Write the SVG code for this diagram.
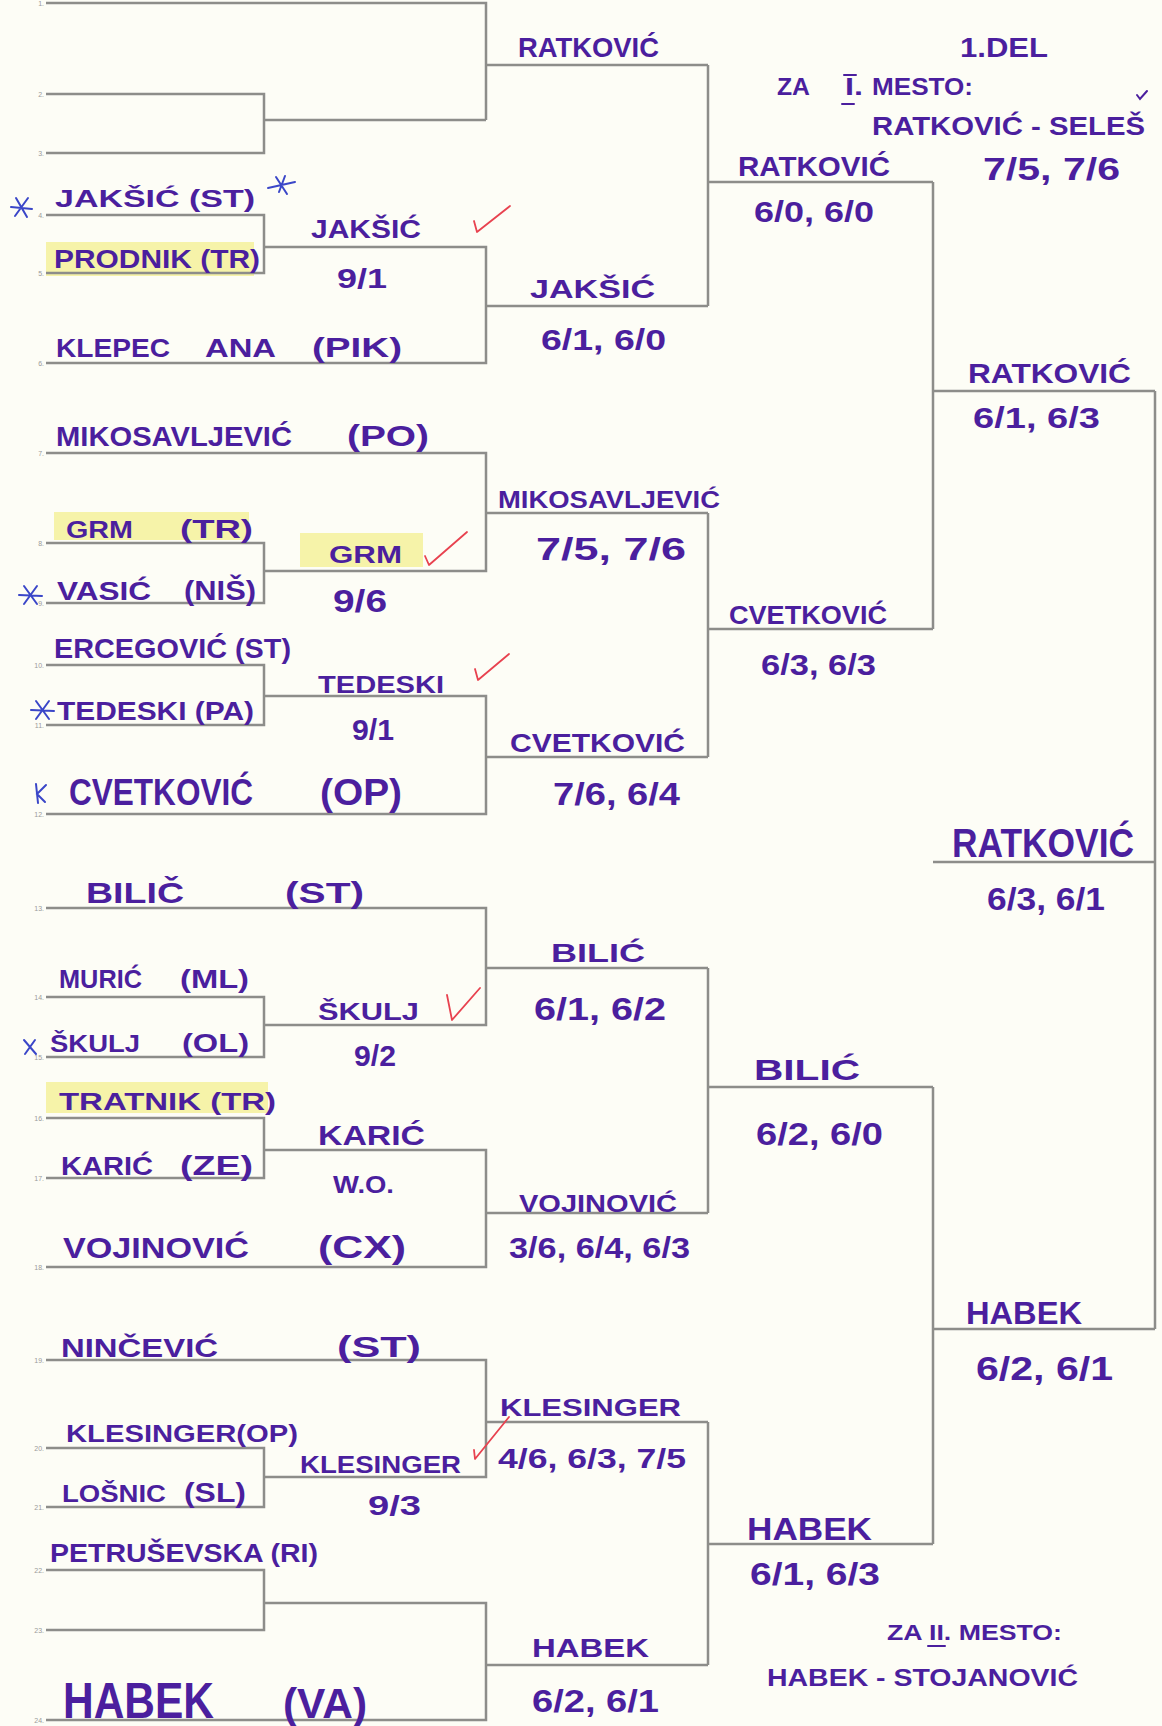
<svg xmlns="http://www.w3.org/2000/svg" width="1162" height="1726" viewBox="0 0 1162 1726">
<style>
.h{font-family:"Liberation Sans","DejaVu Sans",sans-serif;font-weight:bold;fill:#4b1f9e;}
.ln{fill:none;stroke:#8d8d8a;stroke-width:2.5;}
.num{font-family:"Liberation Sans",sans-serif;font-size:7px;fill:#9a9a9a;text-anchor:end;}
.hl{fill:#f3ef8f;opacity:0.75;}
.chk{fill:none;stroke:#e8424f;stroke-width:1.8;stroke-linecap:round;stroke-linejoin:round;}
.ast{fill:none;stroke:#3a46c8;stroke-width:2;stroke-linecap:round;}
.pm{fill:none;stroke:#4b1f9e;stroke-width:2;stroke-linecap:round;}
</style>
<rect width="1162" height="1726" fill="#fdfdf6"/>

<g id="highlights">
<rect class="hl" x="46" y="242" width="208" height="34"/>
<rect class="hl" x="54" y="512" width="195" height="28"/>
<rect class="hl" x="300" y="533" width="123" height="34"/>
<rect class="hl" x="46" y="1082" width="222" height="31"/>
</g>

<g id="connectors">
<path class="ln" d="M46 3H486V120M46 94H264V153H46M264 120H486M486 65H708"/>
<path class="ln" d="M46 215H264V273H46M264 247H486V363H46M486 306H708M708 65V306M708 182H933"/>
<path class="ln" d="M46 453H486V571H264M46 543H264V603H46M486 513H708"/>
<path class="ln" d="M46 665H264V725H46M264 696H486V814H46M486 757H708M708 513V757M708 629H933"/>
<path class="ln" d="M933 182V629M933 391H1155"/>
<path class="ln" d="M46 908H486V1025H264M46 997H264V1057H46M486 968H708"/>
<path class="ln" d="M46 1118H264V1178H46M264 1150H486V1267H46M486 1213H708M708 968V1213M708 1087H933"/>
<path class="ln" d="M46 1360H486V1477H264M46 1448H264V1507H46M486 1422H708"/>
<path class="ln" d="M46 1570H264V1630H46M264 1603H486V1720H46M486 1665H708M708 1422V1665M708 1544H933"/>
<path class="ln" d="M933 1087V1544M933 1329H1155M1155 391V1329M933 862H1155"/>
</g>

<g id="draw-numbers">
<text class="num" x="44" y="6">1.</text>
<text class="num" x="44" y="97">2.</text>
<text class="num" x="44" y="156">3.</text>
<text class="num" x="44" y="218">4.</text>
<text class="num" x="44" y="276">5.</text>
<text class="num" x="44" y="366">6.</text>
<text class="num" x="44" y="456">7.</text>
<text class="num" x="44" y="546">8.</text>
<text class="num" x="44" y="606">9.</text>
<text class="num" x="44" y="668">10.</text>
<text class="num" x="44" y="728">11.</text>
<text class="num" x="44" y="817">12.</text>
<text class="num" x="44" y="911">13.</text>
<text class="num" x="44" y="1000">14.</text>
<text class="num" x="44" y="1060">15.</text>
<text class="num" x="44" y="1121">16.</text>
<text class="num" x="44" y="1181">17.</text>
<text class="num" x="44" y="1270">18.</text>
<text class="num" x="44" y="1363">19.</text>
<text class="num" x="44" y="1451">20.</text>
<text class="num" x="44" y="1510">21.</text>
<text class="num" x="44" y="1573">22.</text>
<text class="num" x="44" y="1633">23.</text>
<text class="num" x="44" y="1723">24.</text>
</g>

<g id="notes">
<text class="h" x="960" y="57" font-size="28" textLength="88" lengthAdjust="spacingAndGlyphs">1.DEL</text>
<text class="h" x="777" y="95" font-size="24" textLength="33" lengthAdjust="spacingAndGlyphs">ZA</text>
<text class="h" x="845" y="95" font-size="24" textLength="18" lengthAdjust="spacingAndGlyphs">I.</text>
<text class="h" x="872" y="95" font-size="24" textLength="101" lengthAdjust="spacingAndGlyphs">MESTO:</text>
<path class="pm" d="M842 104H854M844 75H856"/>
<text class="h" x="872" y="135" font-size="25" textLength="273" lengthAdjust="spacingAndGlyphs">RATKOVIĆ - SELEŠ</text>
<path class="pm" d="M1137 95L1140 99L1147 91"/>
<text class="h" x="983" y="180" font-size="32" textLength="137" lengthAdjust="spacingAndGlyphs">7/5, 7/6</text>
<text class="h" x="887" y="1640" font-size="22" textLength="175" lengthAdjust="spacingAndGlyphs">ZA II. MESTO:</text>
<path class="pm" d="M928 1646H945"/>
<text class="h" x="767" y="1686" font-size="24" textLength="311" lengthAdjust="spacingAndGlyphs">HABEK - STOJANOVIĆ</text>
</g>

<g id="p01-ratkovic-r2"><text class="h" x="518" y="57" font-size="28" textLength="141" lengthAdjust="spacingAndGlyphs">RATKOVIĆ</text></g>
<g id="p04-jaksic">
<text class="h" x="55" y="207" font-size="24" textLength="200" lengthAdjust="spacingAndGlyphs">JAKŠIĆ (ST)</text>
</g>
<g id="p05-prodnik"><text class="h" x="54" y="268" font-size="26" textLength="206" lengthAdjust="spacingAndGlyphs">PRODNIK (TR)</text></g>
<g id="m45-jaksic">
<text class="h" x="311" y="238" font-size="26" textLength="110" lengthAdjust="spacingAndGlyphs">JAKŠIĆ</text>
<text class="h" x="337" y="288" font-size="28" textLength="50" lengthAdjust="spacingAndGlyphs">9/1</text>
</g>
<g id="p06-klepec">
<text class="h" x="56" y="357" font-size="26" textLength="114" lengthAdjust="spacingAndGlyphs">KLEPEC</text>
<text class="h" x="205" y="357" font-size="26" textLength="71" lengthAdjust="spacingAndGlyphs">ANA</text>
<text class="h" x="312" y="357" font-size="28" textLength="90" lengthAdjust="spacingAndGlyphs">(PIK)</text>
</g>
<g id="m-r2-jaksic">
<text class="h" x="530" y="298" font-size="26" textLength="125" lengthAdjust="spacingAndGlyphs">JAKŠIĆ</text>
<text class="h" x="541" y="350" font-size="30" textLength="125" lengthAdjust="spacingAndGlyphs">6/1, 6/0</text>
</g>
<g id="m-r3-ratkovic">
<text class="h" x="738" y="176" font-size="28" textLength="152" lengthAdjust="spacingAndGlyphs">RATKOVIĆ</text>
<text class="h" x="754" y="222" font-size="30" textLength="120" lengthAdjust="spacingAndGlyphs">6/0, 6/0</text>
</g>
<g id="m-r4-ratkovic">
<text class="h" x="968" y="383" font-size="28" textLength="163" lengthAdjust="spacingAndGlyphs">RATKOVIĆ</text>
<text class="h" x="973" y="428" font-size="30" textLength="127" lengthAdjust="spacingAndGlyphs">6/1, 6/3</text>
</g>

<g id="p07-mikosavljevic">
<text class="h" x="56" y="446" font-size="28" textLength="236" lengthAdjust="spacingAndGlyphs">MIKOSAVLJEVIĆ</text>
<text class="h" x="347" y="446" font-size="30" textLength="82" lengthAdjust="spacingAndGlyphs">(PO)</text>
</g>
<g id="p08-grm">
<text class="h" x="66" y="538" font-size="24" textLength="67" lengthAdjust="spacingAndGlyphs">GRM</text>
<text class="h" x="180" y="538" font-size="26" textLength="73" lengthAdjust="spacingAndGlyphs">(TR)</text>
</g>
<g id="m89-grm">
<text class="h" x="329" y="563" font-size="24" textLength="73" lengthAdjust="spacingAndGlyphs">GRM</text>
<text class="h" x="333" y="612" font-size="32" textLength="54" lengthAdjust="spacingAndGlyphs">9/6</text>
</g>
<g id="p09-vasic">
<text class="h" x="57" y="600" font-size="26" textLength="94" lengthAdjust="spacingAndGlyphs">VASIĆ</text>
<text class="h" x="184" y="600" font-size="28" textLength="72" lengthAdjust="spacingAndGlyphs">(NIŠ)</text>
</g>
<g id="m-r2-mikosavljevic">
<text class="h" x="498" y="508" font-size="24" textLength="222" lengthAdjust="spacingAndGlyphs">MIKOSAVLJEVIĆ</text>
<text class="h" x="536" y="560" font-size="32" textLength="150" lengthAdjust="spacingAndGlyphs">7/5, 7/6</text>
</g>
<g id="p10-ercegovic"><text class="h" x="54" y="658" font-size="28" textLength="237" lengthAdjust="spacingAndGlyphs">ERCEGOVIĆ (ST)</text></g>
<g id="p11-tedeski"><text class="h" x="57" y="720" font-size="26" textLength="197" lengthAdjust="spacingAndGlyphs">TEDESKI (PA)</text></g>
<g id="m1011-tedeski">
<text class="h" x="318" y="693" font-size="24" textLength="126" lengthAdjust="spacingAndGlyphs">TEDESKI</text>
<text class="h" x="352" y="740" font-size="30" textLength="42" lengthAdjust="spacingAndGlyphs">9/1</text>
</g>
<g id="p12-cvetkovic">
<text class="h" x="69" y="805" font-size="36" textLength="184" lengthAdjust="spacingAndGlyphs">CVETKOVIĆ</text>
<text class="h" x="320" y="805" font-size="36" textLength="82" lengthAdjust="spacingAndGlyphs">(OP)</text>
</g>
<g id="m-r2-cvetkovic">
<text class="h" x="510" y="752" font-size="26" textLength="175" lengthAdjust="spacingAndGlyphs">CVETKOVIĆ</text>
<text class="h" x="553" y="805" font-size="32" textLength="127" lengthAdjust="spacingAndGlyphs">7/6, 6/4</text>
</g>
<g id="m-r3-cvetkovic">
<text class="h" x="729" y="624" font-size="26" textLength="158" lengthAdjust="spacingAndGlyphs">CVETKOVIĆ</text>
<text class="h" x="761" y="675" font-size="30" textLength="115" lengthAdjust="spacingAndGlyphs">6/3, 6/3</text>
</g>

<g id="final-ratkovic">
<text class="h" x="952" y="857" font-size="40" textLength="182" lengthAdjust="spacingAndGlyphs">RATKOVIĆ</text>
<text class="h" x="987" y="910" font-size="32" textLength="118" lengthAdjust="spacingAndGlyphs">6/3, 6/1</text>
</g>

<g id="p13-bilic">
<text class="h" x="86" y="903" font-size="30" textLength="98" lengthAdjust="spacingAndGlyphs">BILIČ</text>
<text class="h" x="285" y="903" font-size="30" textLength="79" lengthAdjust="spacingAndGlyphs">(ST)</text>
</g>
<g id="p14-muric">
<text class="h" x="59" y="988" font-size="26" textLength="83" lengthAdjust="spacingAndGlyphs">MURIĆ</text>
<text class="h" x="180" y="988" font-size="26" textLength="69" lengthAdjust="spacingAndGlyphs">(ML)</text>
</g>
<g id="m1415-skulj">
<text class="h" x="318" y="1020" font-size="24" textLength="101" lengthAdjust="spacingAndGlyphs">ŠKULJ</text>
<text class="h" x="354" y="1066" font-size="30" textLength="42" lengthAdjust="spacingAndGlyphs">9/2</text>
</g>
<g id="p15-skulj">
<text class="h" x="50" y="1052" font-size="24" textLength="90" lengthAdjust="spacingAndGlyphs">ŠKULJ</text>
<text class="h" x="182" y="1052" font-size="26" textLength="67" lengthAdjust="spacingAndGlyphs">(OL)</text>
</g>
<g id="p16-tratnik"><text class="h" x="59" y="1110" font-size="24" textLength="217" lengthAdjust="spacingAndGlyphs">TRATNIK (TR)</text></g>
<g id="m1617-karic">
<text class="h" x="318" y="1145" font-size="28" textLength="107" lengthAdjust="spacingAndGlyphs">KARIĆ</text>
<text class="h" x="333" y="1193" font-size="24" textLength="61" lengthAdjust="spacingAndGlyphs">W.O.</text>
</g>
<g id="p17-karic">
<text class="h" x="61" y="1175" font-size="26" textLength="92" lengthAdjust="spacingAndGlyphs">KARIĆ</text>
<text class="h" x="180" y="1175" font-size="28" textLength="73" lengthAdjust="spacingAndGlyphs">(ZE)</text>
</g>
<g id="p18-vojinovic">
<text class="h" x="63" y="1258" font-size="30" textLength="186" lengthAdjust="spacingAndGlyphs">VOJINOVIĆ</text>
<text class="h" x="318" y="1258" font-size="32" textLength="88" lengthAdjust="spacingAndGlyphs">(CX)</text>
</g>
<g id="m-r2-bilic">
<text class="h" x="551" y="962" font-size="26" textLength="94" lengthAdjust="spacingAndGlyphs">BILIĆ</text>
<text class="h" x="534" y="1020" font-size="32" textLength="132" lengthAdjust="spacingAndGlyphs">6/1, 6/2</text>
</g>
<g id="m-r2-vojinovic">
<text class="h" x="519" y="1212" font-size="24" textLength="158" lengthAdjust="spacingAndGlyphs">VOJINOVIĆ</text>
<text class="h" x="509" y="1258" font-size="30" textLength="181" lengthAdjust="spacingAndGlyphs">3/6, 6/4, 6/3</text>
</g>
<g id="m-r3-bilic">
<text class="h" x="754" y="1080" font-size="30" textLength="106" lengthAdjust="spacingAndGlyphs">BILIĆ</text>
<text class="h" x="756" y="1145" font-size="32" textLength="127" lengthAdjust="spacingAndGlyphs">6/2, 6/0</text>
</g>
<g id="m-r4-habek">
<text class="h" x="966" y="1324" font-size="32" textLength="116" lengthAdjust="spacingAndGlyphs">HABEK</text>
<text class="h" x="976" y="1380" font-size="34" textLength="137" lengthAdjust="spacingAndGlyphs">6/2, 6/1</text>
</g>

<g id="p19-nincevic">
<text class="h" x="61" y="1357" font-size="26" textLength="157" lengthAdjust="spacingAndGlyphs">NINČEVIĆ</text>
<text class="h" x="337" y="1357" font-size="30" textLength="84" lengthAdjust="spacingAndGlyphs">(ST)</text>
</g>
<g id="p20-klesinger"><text class="h" x="66" y="1442" font-size="24" textLength="232" lengthAdjust="spacingAndGlyphs">KLESINGER(OP)</text></g>
<g id="m2021-klesinger">
<text class="h" x="300" y="1473" font-size="24" textLength="161" lengthAdjust="spacingAndGlyphs">KLESINGER</text>
<text class="h" x="368" y="1515" font-size="28" textLength="53" lengthAdjust="spacingAndGlyphs">9/3</text>
</g>
<g id="p21-losnic">
<text class="h" x="62" y="1502" font-size="24" textLength="104" lengthAdjust="spacingAndGlyphs">LOŠNIC</text>
<text class="h" x="184" y="1502" font-size="28" textLength="62" lengthAdjust="spacingAndGlyphs">(SL)</text>
</g>
<g id="p22-petrusevska"><text class="h" x="50" y="1562" font-size="26" textLength="268" lengthAdjust="spacingAndGlyphs">PETRUŠEVSKA (RI)</text></g>
<g id="p24-habek">
<text class="h" x="63" y="1718" font-size="50" textLength="151" lengthAdjust="spacingAndGlyphs">HABEK</text>
<text class="h" x="283" y="1718" font-size="42" textLength="84" lengthAdjust="spacingAndGlyphs">(VA)</text>
</g>
<g id="m-r2-klesinger">
<text class="h" x="500" y="1416" font-size="24" textLength="181" lengthAdjust="spacingAndGlyphs">KLESINGER</text>
<text class="h" x="498" y="1468" font-size="28" textLength="188" lengthAdjust="spacingAndGlyphs">4/6, 6/3, 7/5</text>
</g>
<g id="m-r2-habek">
<text class="h" x="532" y="1657" font-size="26" textLength="117" lengthAdjust="spacingAndGlyphs">HABEK</text>
<text class="h" x="532" y="1712" font-size="32" textLength="127" lengthAdjust="spacingAndGlyphs">6/2, 6/1</text>
</g>
<g id="m-r3-habek">
<text class="h" x="747" y="1540" font-size="32" textLength="125" lengthAdjust="spacingAndGlyphs">HABEK</text>
<text class="h" x="750" y="1585" font-size="32" textLength="130" lengthAdjust="spacingAndGlyphs">6/1, 6/3</text>
</g>

<g id="checks">
<path class="chk" d="M474 221L477 232L510 206"/>
<path class="chk" d="M425 556L429 565L467 532"/>
<path class="chk" d="M475 669L478 680L509 654"/>
<path class="chk" d="M447 995L452 1020L480 988"/>
<path class="chk" d="M474 1450L475 1459L509 1417"/>
</g>
<g id="marks">
<path class="ast" d="M11 207L32 209M16 198L27 217M28 198L15 216"/>
<path class="ast" d="M268 188L295 182M276 177L287 194M285 176L279 192"/>
<path class="ast" d="M19 595L42 596M24 586L37 604M37 586L24 604"/>
<path class="ast" d="M31 710L54 711M36 701L49 719M49 701L36 719"/>
<path class="ast" d="M36 784L38 803M46 785L37 794L45 802"/>
<path class="ast" d="M24 1040L36 1054M35 1040L25 1054"/>
</g>
</svg>
